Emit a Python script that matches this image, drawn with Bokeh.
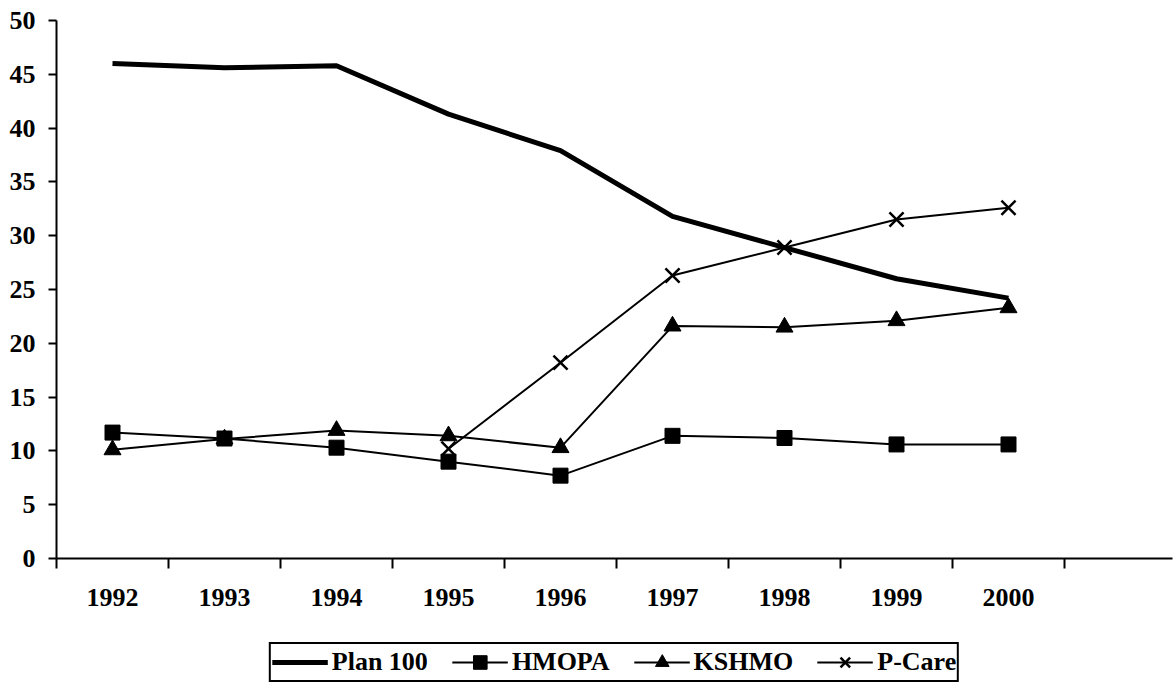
from bokeh.plotting import figure
from bokeh.layouts import column
from bokeh.models import (Range1d, LinearAxis, FixedTicker, Legend, LegendItem)
from bokeh.embed import file_html
from bokeh.resources import INLINE

years = ["1992", "1993", "1994", "1995", "1996", "1997", "1998", "1999", "2000"]
plan100 = [46.0, 45.6, 45.8, 41.3, 37.9, 31.8, 28.9, 26.0, 24.2]
hmopa = [11.7, 11.15, 10.3, 9.0, 7.7, 11.4, 11.2, 10.6, 10.6]
kshmo = [10.1, 11.1, 11.9, 11.4, 10.3, 21.6, 21.5, 22.1, 23.3]
pcare_years = ["1995", "1996", "1997", "1998", "1999", "2000"]
pcare = [10.2, 18.2, 26.3, 28.9, 31.5, 32.6]
y_ticks = list(range(0, 51, 5))
series_names = ["Plan 100", "HMOPA", "KSHMO", "P-Care"]

FONT = "Liberation Serif"
FS = "26px"
idx = {y: i + 0.5 for i, y in enumerate(years)}
x = [idx[y] for y in years]
xp = [idx[y] for y in pcare_years]

W = 1174
FW = W - 56 - 2
p = figure(width=W, height=620, output_backend="svg", toolbar_location=None,
           x_range=Range1d(0, FW / 112.0), y_range=Range1d(0, 50),
           x_axis_type=None, y_axis_type=None,
           min_border_left=56, min_border_right=2, min_border_top=20,
           min_border_bottom=62)
p.outline_line_color = None
p.xgrid.visible = False
p.ygrid.visible = False
p.background_fill_color = "white"

# y axis
yax = LinearAxis(ticker=FixedTicker(ticks=y_ticks))
yax.axis_line_width = 2
yax.major_tick_line_width = 2
yax.major_tick_out = 8
yax.major_tick_in = 0
yax.minor_tick_line_color = None
yax.major_label_text_font = FONT
yax.major_label_text_font_style = "bold"
yax.major_label_text_font_size = FS
yax.major_label_text_color = "black"
yax.major_label_standoff = 13
p.add_layout(yax, "left")

# x axis: boundary ticks
xax = LinearAxis(ticker=FixedTicker(ticks=list(range(0, 10))))
xax.axis_line_width = 2
xax.major_tick_line_width = 2
xax.major_tick_out = 10
xax.major_tick_in = 0
xax.minor_tick_line_color = None
xax.major_label_text_font_size = "1px"
xax.major_label_text_color = None
xax.major_label_standoff = 0
p.add_layout(xax, "below")

# x axis: category labels
xlab = LinearAxis(ticker=FixedTicker(ticks=x))
xlab.axis_line_color = None
xlab.major_tick_line_color = None
xlab.minor_tick_line_color = None
xlab.major_label_overrides = {v: y for y, v in idx.items()}
xlab.major_label_text_font = FONT
xlab.major_label_text_font_style = "bold"
xlab.major_label_text_font_size = FS
xlab.major_label_text_color = "black"
xlab.major_label_standoff = 14
p.add_layout(xlab, "below")

p.line(x, plan100, line_color="black", line_width=5)
p.line(x, hmopa, line_color="black", line_width=2)
p.scatter(x, hmopa, marker="square", size=15, fill_color="black", line_color="black")
p.line(x, kshmo, line_color="black", line_width=2)
p.scatter(x, kshmo, marker="triangle", size=17, fill_color="black", line_color="black")
p.line(xp, pcare, line_color="black", line_width=2)
p.scatter(xp, pcare, marker="x", size=20, line_color="black", line_width=2.5)

# legend strip (separate figure so the box can be placed precisely);
# its sample glyphs sit outside the strip's visible range
q = figure(width=W, height=63, output_backend="svg", toolbar_location=None,
           x_range=Range1d(0, 1), y_range=Range1d(0, 1),
           x_axis_type=None, y_axis_type=None,
           min_border_left=56, min_border_right=0, min_border_top=0,
           min_border_bottom=0)
q.outline_line_color = None
q.xgrid.visible = False
q.ygrid.visible = False
hx, hy = [5, 6], [5, 6]
l_plan = q.line(hx, hy, line_color="black", line_width=5)
l_h_l = q.line(hx, hy, line_color="black", line_width=2)
l_h_m = q.scatter(hx, hy, marker="square", size=15, fill_color="black", line_color="black")
l_k_l = q.line(hx, hy, line_color="black", line_width=2)
l_k_m = q.scatter(hx, hy, marker="triangle", size=17, fill_color="black", line_color="black")
l_p_l = q.line(hx, hy, line_color="black", line_width=2)
l_p_m = q.scatter(hx, hy, marker="x", size=18, line_color="black", line_width=2.5)

legend = Legend(items=[
    LegendItem(label=series_names[0], renderers=[l_plan]),
    LegendItem(label=series_names[1], renderers=[l_h_l, l_h_m]),
    LegendItem(label=series_names[2], renderers=[l_k_l, l_k_m]),
    LegendItem(label=series_names[3], renderers=[l_p_l, l_p_m]),
], orientation="horizontal", location="top_center")
legend.label_text_font = FONT
legend.label_text_font_style = "bold"
legend.label_text_font_size = FS
legend.label_text_color = "black"
legend.border_line_color = "black"
legend.border_line_alpha = 1
legend.border_line_width = 2
legend.glyph_width = 56
legend.glyph_height = 34
legend.label_standoff = 4
legend.spacing = 24
legend.padding = 1
legend.margin = 22
legend.background_fill_alpha = 1
q.add_layout(legend, "center")

layout = column(p, q, spacing=0)
open("out.html", "w").write(file_html(layout, INLINE))
